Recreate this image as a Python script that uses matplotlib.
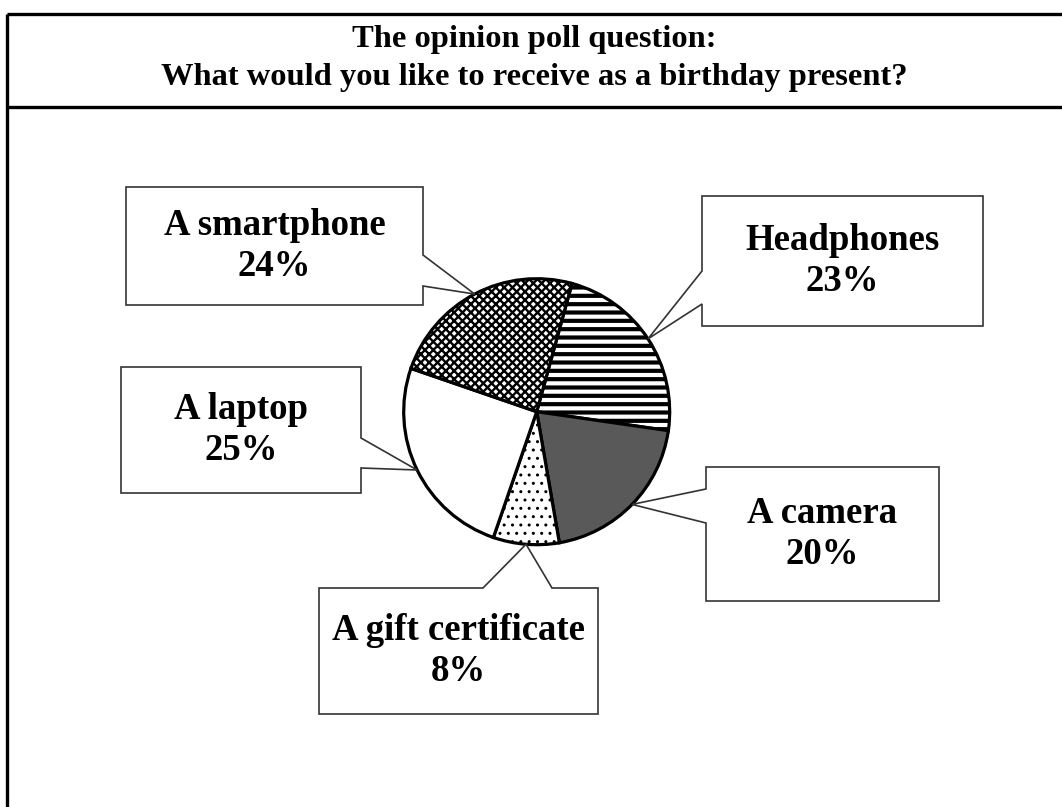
import numpy as np
import matplotlib.pyplot as plt
from matplotlib.patches import Polygon

# data (clockwise from the top-right of the pie)
categories = ['Headphones', 'A camera', 'A gift certificate', 'A laptop', 'A smartphone']
shares = [23, 20, 8, 25, 24]
fills = ['white', '#595959', 'white', 'white', 'white']
hatches = ['--', '', '..', '', 'xxxx']

title_lines = ['The opinion poll question:', 'What would you like to receive as a birthday present?']

W, H = 1062, 807


def Y(y):
    # pixel row (from top) -> data y
    return H - y


# callout boxes in pixel coords: (x0, y0, x1, y1), side of the pointer, pointer base
boxes = {
    'A smartphone': ((126, 187, 423, 305), 'right', (255, 286)),
    'Headphones': ((702, 196, 983, 326), 'left', (271, 304)),
    'A camera': ((706, 467, 939, 601), 'left', (489, 523)),
    'A gift certificate': ((319, 588, 598, 714), 'top', (483, 552)),
    'A laptop': ((121, 367, 361, 493), 'right', (438, 468)),
}

plt.rcParams['font.family'] = ['Liberation Serif', 'DejaVu Serif']

fig = plt.figure(figsize=(W / 100, H / 100), dpi=100)
ax = fig.add_axes([0, 0, 1, 1])

cx, cy, r = 536.7, Y(411.7), 133
wedges, _ = ax.pie(shares, center=(cx, cy), radius=r, startangle=74.6, counterclock=False,
                   colors=fills, hatch=hatches,
                   wedgeprops=dict(edgecolor='black', linewidth=2.3))
hatch_lw = {'--': 3.0, 'xxxx': 1.7, '..': 1.0}
for w, h in zip(wedges, hatches):
    if h and hasattr(w, 'set_hatch_linewidth'):
        w.set_hatch_linewidth(hatch_lw[h])

ax.set_xlim(0, W)
ax.set_ylim(0, H)
ax.set_aspect('equal')
ax.axis('off')

# callouts
for w, name, val in zip(wedges, categories, shares):
    (x0, y0, x1, y1), side, (a, b) = boxes[name]
    mid = np.deg2rad((w.theta1 + w.theta2) / 2)
    tip = (cx + r * np.cos(mid), cy + r * np.sin(mid))
    tl, tr, br, bl = (x0, Y(y0)), (x1, Y(y0)), (x1, Y(y1)), (x0, Y(y1))
    if side == 'top':
        pts = [tl, (a, Y(y0)), tip, (b, Y(y0)), tr, br, bl]
    elif side == 'right':
        pts = [tl, tr, (x1, Y(a)), tip, (x1, Y(b)), br, bl]
    else:
        pts = [tl, tr, br, bl, (x0, Y(b)), tip, (x0, Y(a))]
    ax.add_patch(Polygon(pts, closed=True, facecolor='white', edgecolor='#333333',
                         linewidth=1.2, zorder=3))
    ax.text((x0 + x1) / 2, Y((y0 + y1) / 2), f'{name}\n{val}%', ha='center', va='center',
            fontsize=26.5, fontweight='bold', linespacing=1.22, zorder=4)

# frame and title
ax.plot([7, W], [Y(14), Y(14)], color='black', linewidth=2.4, solid_capstyle='butt')
ax.plot([7, W], [Y(107), Y(107)], color='black', linewidth=2.4, solid_capstyle='butt')
ax.plot([7, 7], [Y(14), 0], color='black', linewidth=2.4, solid_capstyle='butt')
ax.text(534, Y(40), title_lines[0], ha='center', va='center', fontsize=23.4, fontweight='bold')
ax.text(534, Y(77), title_lines[1], ha='center', va='center', fontsize=23.4, fontweight='bold')

plt.savefig('out.png', dpi=100)
